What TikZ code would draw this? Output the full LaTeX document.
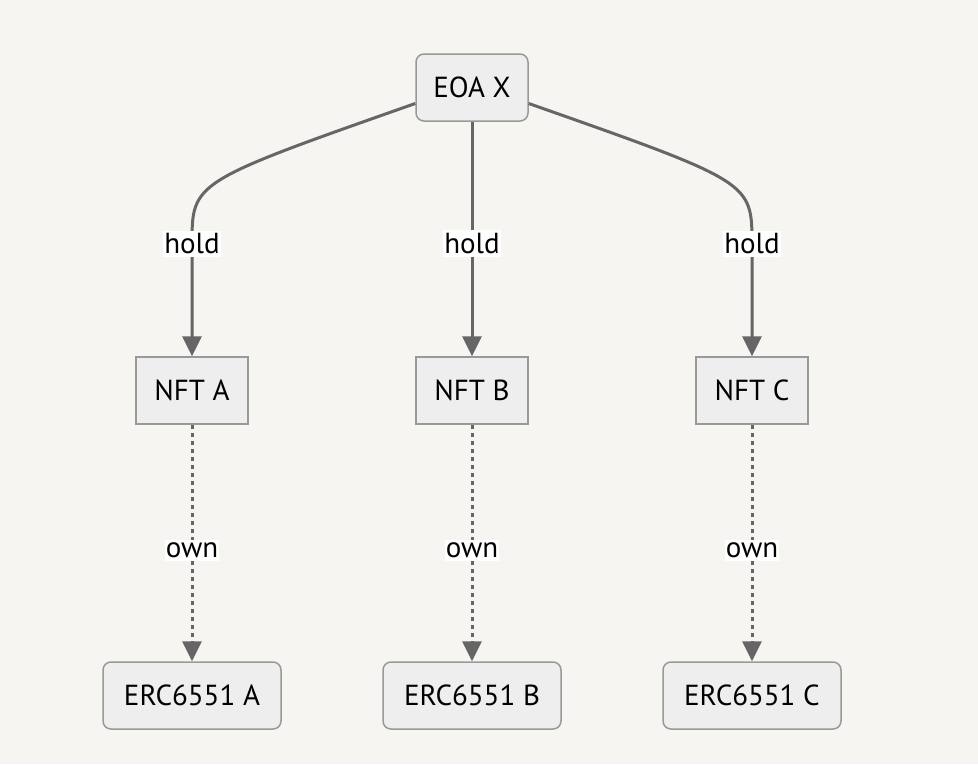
\documentclass[tikz,border=0pt]{standalone}
\usepackage{fontspec}
\setmainfont{PT Sans}
\usetikzlibrary{positioning,arrows.meta}

\definecolor{bgcol}{HTML}{F6F5F2}
\definecolor{boxfill}{HTML}{EEEEEE}
\definecolor{boxline}{HTML}{999999}
\definecolor{edgecol}{HTML}{666666}

\begin{document}
\begin{tikzpicture}[x=1pt, y=1pt,
    font=\fontsize{29}{33}\selectfont,
    box/.style={draw=boxline, line width=1.5pt, fill=boxfill, rectangle, minimum height=67pt, minimum width=112pt, inner xsep=8pt},
    rbox/.style={box, rounded corners=8pt},
    ercbox/.style={rbox, minimum width=178pt},
    edge/.style={draw=edgecol, line width=3pt, -{Triangle[length=20pt, width=19pt]}},
    dotedge/.style={edge, dash pattern=on 4pt off 4pt},
    lbl/.style={fill=white, inner xsep=1pt, inner ysep=3pt}]
    \fill[bgcol] (0,0) rectangle (978,-764);
    \useasboundingbox (0,0) rectangle (978,-764);

    \node (eoa) at (472,-87.5) [rbox] {EOA X};
    \node (nftA) at (192,-390.5) [box] {NFT A};
    \node (nftB) at (472,-390.5) [box] {NFT B};
    \node (nftC) at (752,-390.5) [box] {NFT C};
    \node (ercA) at (192,-695.5) [ercbox] {ERC6551 A};
    \node (ercB) at (472,-695.5) [ercbox] {ERC6551 B};
    \node (ercC) at (752,-695.5) [ercbox] {ERC6551 C};

    \draw [edge] ([yshift=-16pt]eoa.west) .. controls (192,-182) .. (192,-244) node[lbl] {hold} -- (nftA.north);
    \draw [edge] (eoa.south) -- (nftB.north) node[pos=0.52, lbl] {hold};
    \draw [edge] ([yshift=-16pt]eoa.east) .. controls (752,-182) .. (752,-244) node[lbl] {hold} -- (nftC.north);

    \draw [dotedge] (nftA) -- (ercA) node[pos=0.53, lbl] {own};
    \draw [dotedge] (nftB) -- (ercB) node[pos=0.53, lbl] {own};
    \draw [dotedge] (nftC) -- (ercC) node[pos=0.53, lbl] {own};
\end{tikzpicture}
\end{document}
